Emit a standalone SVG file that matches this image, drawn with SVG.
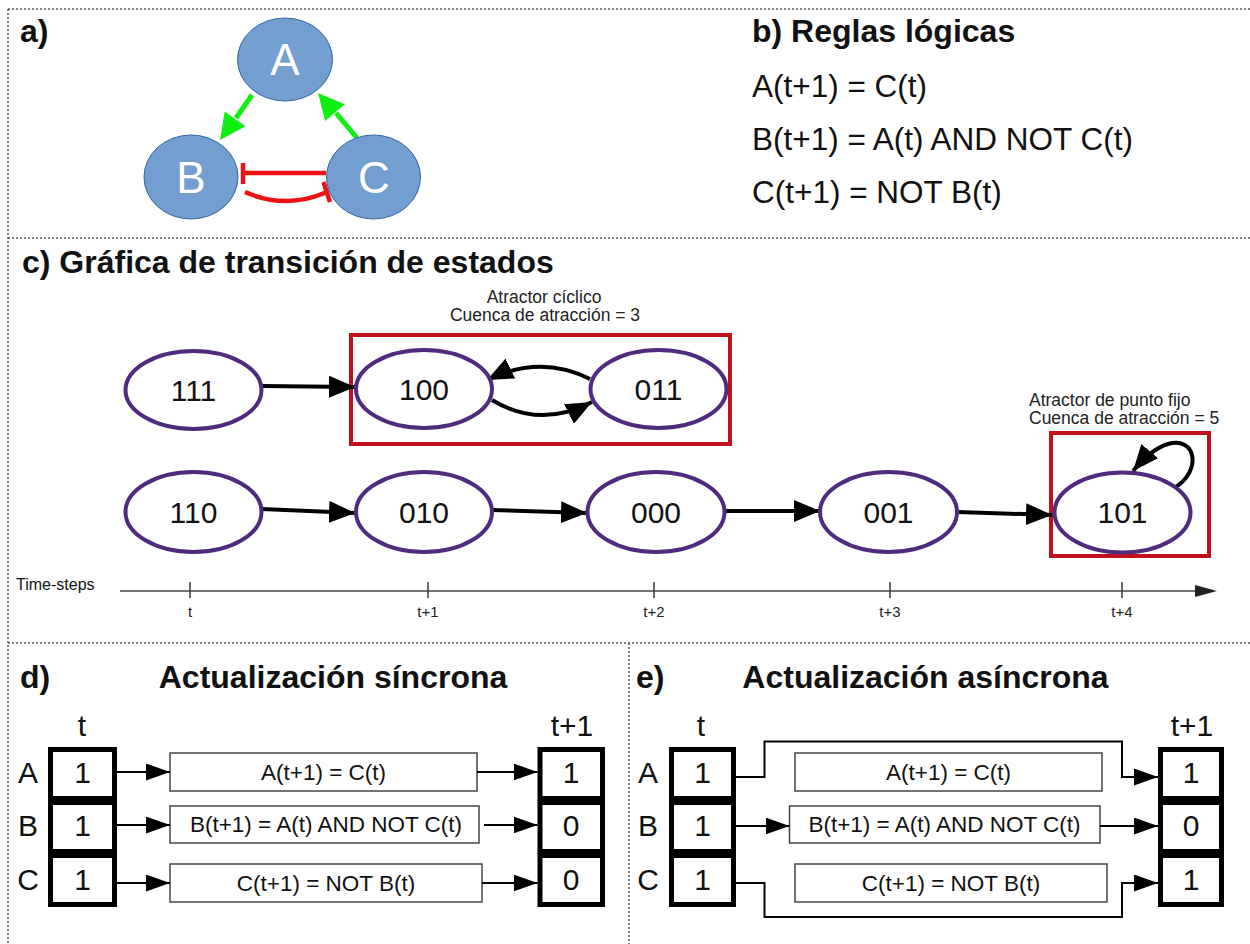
<svg xmlns="http://www.w3.org/2000/svg" width="1250" height="944" viewBox="0 0 1250 944">
  <style>
    text { font-family: "Liberation Sans", Arial, sans-serif; fill: #111; }
    .title { font-size: 32px; font-weight: bold; }
    .rule { font-size: 31.5px; }
    .gene { fill: #729fcf; stroke: #3465a4; stroke-width: 1; }
    .gene-label { font-size: 44px; fill: #fff; text-anchor: middle; }
    .act { stroke: #11ee11; stroke-width: 5; fill: none; }
    .act-head { fill: #11ee11; }
    .inh { stroke: #ee1111; stroke-width: 4.5; fill: none; }
    .state { fill: #fff; stroke: #4f2b7d; stroke-width: 4; }
    .state-label { font-size: 30px; text-anchor: middle; }
    .attractor { fill: none; stroke: #c0101c; stroke-width: 4; }
    .note { font-size: 17.5px; fill: #222; }
    .edge { stroke: #000; stroke-width: 4; fill: none; }
    .axis { stroke: #444; stroke-width: 1.6; fill: none; }
    .tick { font-size: 15px; text-anchor: middle; fill: #222; }
    .cell { fill: #fff; stroke: #000; stroke-width: 5; }
    .cell-text { font-size: 30px; text-anchor: middle; }
    .fn { fill: #fff; stroke: #444; stroke-width: 1.5; }
    .fn-text { font-size: 22.5px; text-anchor: middle; }
    .wire { stroke: #000; stroke-width: 2; fill: none; }
    .border { stroke: #555; stroke-width: 1.5; stroke-dasharray: 2 2; fill: none; }
  </style>
  <defs>
    <marker id="head-big" markerUnits="userSpaceOnUse" markerWidth="26" markerHeight="22" refX="26" refY="11" orient="auto">
      <path d="M0,0 L26,11 L0,22 z" fill="#000"/>
    </marker>
    <marker id="head-small" markerUnits="userSpaceOnUse" markerWidth="24" markerHeight="17" refX="24" refY="8.5" orient="auto">
      <path d="M0,0 L24,8.5 L0,17 z" fill="#000"/>
    </marker>
  </defs>

  <rect width="1250" height="944" fill="#fff"/>

  <!-- panel frames -->
  <g id="frames">
    <line class="border" x1="8" y1="9" x2="1250" y2="9"/>
    <line class="border" x1="8" y1="9" x2="8" y2="944"/>
    <line class="border" x1="8" y1="238" x2="1250" y2="238"/>
    <line class="border" x1="8" y1="643" x2="1250" y2="643"/>
    <line class="border" x1="629" y1="643" x2="629" y2="944"/>
  </g>

  <!-- a) network -->
  <text class="title" x="20" y="42">a)</text>
  <g id="connectors-a">
    <line class="act" x1="252" y1="95" x2="236" y2="118"/>
    <polygon class="act-head" points="220,140 245.5,126.2 224.7,111.4"/>
    <line class="act" x1="357" y1="138" x2="336" y2="113"/>
    <polygon class="act-head" points="318,93 344.8,104.3 325.2,121.1"/>
    <line class="inh" x1="326" y1="173" x2="243" y2="173"/>
    <line class="inh" x1="243" y1="163" x2="243" y2="184"/>
    <path class="inh" d="M245,192 Q286,210 327,192"/>
    <line class="inh" x1="323.5" y1="182" x2="330" y2="202"/>
  </g>
  <g id="gene-A">
    <ellipse class="gene" cx="285" cy="59.5" rx="47.5" ry="41.5"/>
    <text class="gene-label" x="285" y="75">A</text>
  </g>
  <g id="gene-B">
    <ellipse class="gene" cx="191" cy="177" rx="47" ry="42"/>
    <text class="gene-label" x="191" y="193">B</text>
  </g>
  <g id="gene-C">
    <ellipse class="gene" cx="373.5" cy="177" rx="47" ry="42"/>
    <text class="gene-label" x="374" y="193">C</text>
  </g>

  <!-- b) rules -->
  <g id="rules">
    <text class="title" x="752" y="42">b) Reglas lógicas</text>
    <text class="rule" x="752" y="97">A(t+1) = C(t)</text>
    <text class="rule" x="752" y="150">B(t+1) = A(t) AND NOT C(t)</text>
    <text class="rule" x="752" y="203">C(t+1) = NOT B(t)</text>
  </g>

  <!-- c) state transition graph -->
  <text class="title" x="22" y="273">c) Gráfica de transición de estados</text>

  <g id="attractor-cycle">
    <rect class="attractor" x="351" y="335" width="379" height="109"/>
    <text class="note" x="544" y="303" text-anchor="middle">Atractor cíclico</text>
    <text class="note" x="545" y="321" text-anchor="middle">Cuenca de atracción = 3</text>
  </g>
  <g id="attractor-fixed">
    <rect class="attractor" x="1051" y="433" width="158" height="123"/>
    <text class="note" x="1029" y="406">Atractor de punto fijo</text>
    <text class="note" x="1029" y="424">Cuenca de atracción = 5</text>
  </g>

  <g id="connectors-c">
    <line class="edge" x1="262" y1="386" x2="355" y2="387" marker-end="url(#head-big)"/>
    <path class="edge" d="M590,379 Q540,354 487,380" marker-end="url(#head-big)"/>
    <path class="edge" d="M492,400 Q540,429 592,402" marker-end="url(#head-big)"/>
    <line class="edge" x1="262" y1="509" x2="355" y2="513" marker-end="url(#head-big)"/>
    <line class="edge" x1="492" y1="510" x2="587" y2="513" marker-end="url(#head-big)"/>
    <line class="edge" x1="725" y1="511" x2="820" y2="511" marker-end="url(#head-big)"/>
    <line class="edge" x1="957" y1="512" x2="1052" y2="515" marker-end="url(#head-big)"/>
    <path class="edge" d="M1176,487 C1202,470 1196,436 1168,444 C1157,447 1144,458 1133,471" marker-end="url(#head-big)"/>
  </g>

  <g id="state-111">
    <ellipse class="state" cx="193.5" cy="390" rx="68" ry="39"/>
    <text class="state-label" x="193.5" y="401">111</text>
  </g>
  <g id="state-100">
    <ellipse class="state" cx="424" cy="389" rx="68" ry="39"/>
    <text class="state-label" x="424" y="400">100</text>
  </g>
  <g id="state-011">
    <ellipse class="state" cx="658.5" cy="389" rx="68" ry="39"/>
    <text class="state-label" x="658.5" y="400">011</text>
  </g>
  <g id="state-110">
    <ellipse class="state" cx="193.5" cy="512" rx="68" ry="40"/>
    <text class="state-label" x="193.5" y="523">110</text>
  </g>
  <g id="state-010">
    <ellipse class="state" cx="424" cy="512" rx="68" ry="40"/>
    <text class="state-label" x="424" y="523">010</text>
  </g>
  <g id="state-000">
    <ellipse class="state" cx="656" cy="512" rx="68.5" ry="40"/>
    <text class="state-label" x="656" y="523">000</text>
  </g>
  <g id="state-001">
    <ellipse class="state" cx="888.5" cy="512" rx="68.5" ry="40"/>
    <text class="state-label" x="888.5" y="523">001</text>
  </g>
  <g id="state-101">
    <ellipse class="state" cx="1122.5" cy="512.5" rx="68" ry="40"/>
    <text class="state-label" x="1122.5" y="523">101</text>
  </g>

  <g id="time-axis">
    <text x="16" y="590" font-size="16" fill="#222">Time-steps</text>
    <line class="axis" x1="120" y1="591" x2="1200" y2="591"/>
    <polygon points="1195,585 1217,591 1195,597" fill="#222"/>
    <line class="axis" x1="190" y1="582" x2="190" y2="598"/>
    <line class="axis" x1="428" y1="582" x2="428" y2="598"/>
    <line class="axis" x1="654" y1="582" x2="654" y2="598"/>
    <line class="axis" x1="890" y1="582" x2="890" y2="598"/>
    <line class="axis" x1="1122" y1="582" x2="1122" y2="598"/>
    <text class="tick" x="190" y="617">t</text>
    <text class="tick" x="428" y="617">t+1</text>
    <text class="tick" x="654" y="617">t+2</text>
    <text class="tick" x="890" y="617">t+3</text>
    <text class="tick" x="1122" y="617">t+4</text>
  </g>

  <!-- d) synchronous update -->
  <text class="title" x="20" y="688">d)</text>
  <text class="title" x="333" y="688" text-anchor="middle">Actualización síncrona</text>

  <g id="sync-t">
    <text class="cell-text" x="82" y="736">t</text>
    <text class="cell-text" x="28" y="783">A</text>
    <text class="cell-text" x="28" y="836">B</text>
    <text class="cell-text" x="28" y="890">C</text>
    <rect class="cell" x="50.5" y="749.5" width="64" height="49"/>
    <rect class="cell" x="50.5" y="802.5" width="64" height="49"/>
    <rect class="cell" x="50.5" y="855.5" width="64" height="49"/>
    <text class="cell-text" x="82.5" y="783">1</text>
    <text class="cell-text" x="82.5" y="836">1</text>
    <text class="cell-text" x="82.5" y="890">1</text>
  </g>
  <g id="sync-rules">
    <rect class="fn" x="170" y="753" width="307" height="38"/>
    <text class="fn-text" x="323.5" y="780">A(t+1) = C(t)</text>
    <rect class="fn" x="170" y="806" width="309" height="37"/>
    <text class="fn-text" x="326" y="832">B(t+1) = A(t) AND NOT C(t)</text>
    <rect class="fn" x="170" y="864" width="312" height="38"/>
    <text class="fn-text" x="326" y="891">C(t+1) = NOT B(t)</text>
  </g>
  <g id="sync-t1">
    <text class="cell-text" x="572" y="736">t+1</text>
    <rect class="cell" x="540" y="749.5" width="62.5" height="49"/>
    <rect class="cell" x="540" y="802.5" width="62.5" height="49"/>
    <rect class="cell" x="540" y="855.5" width="62.5" height="49"/>
    <text class="cell-text" x="571" y="783">1</text>
    <text class="cell-text" x="571" y="836">0</text>
    <text class="cell-text" x="571" y="890">0</text>
  </g>
  <g id="connectors-d">
    <line class="wire" x1="117" y1="772" x2="170" y2="772" marker-end="url(#head-small)"/>
    <line class="wire" x1="117" y1="825" x2="170" y2="825" marker-end="url(#head-small)"/>
    <line class="wire" x1="117" y1="883" x2="170" y2="883" marker-end="url(#head-small)"/>
    <line class="wire" x1="477" y1="772" x2="537.5" y2="772" marker-end="url(#head-small)"/>
    <line class="wire" x1="484" y1="825" x2="537.5" y2="825" marker-end="url(#head-small)"/>
    <line class="wire" x1="482" y1="883" x2="537.5" y2="883" marker-end="url(#head-small)"/>
  </g>

  <!-- e) asynchronous update -->
  <text class="title" x="636" y="688">e)</text>
  <text class="title" x="925.5" y="688" text-anchor="middle">Actualización asíncrona</text>

  <g id="async-t">
    <text class="cell-text" x="701" y="736">t</text>
    <text class="cell-text" x="648" y="783">A</text>
    <text class="cell-text" x="648" y="836">B</text>
    <text class="cell-text" x="648" y="890">C</text>
    <rect class="cell" x="671.5" y="749.5" width="62" height="49"/>
    <rect class="cell" x="671.5" y="802.5" width="62" height="49"/>
    <rect class="cell" x="671.5" y="855.5" width="62" height="49"/>
    <text class="cell-text" x="702.5" y="783">1</text>
    <text class="cell-text" x="702.5" y="836">1</text>
    <text class="cell-text" x="702.5" y="890">1</text>
  </g>
  <g id="async-rules">
    <rect class="fn" x="795" y="753" width="307" height="38"/>
    <text class="fn-text" x="948.5" y="780">A(t+1) = C(t)</text>
    <rect class="fn" x="789.5" y="806" width="310.5" height="37"/>
    <text class="fn-text" x="944.5" y="832">B(t+1) = A(t) AND NOT C(t)</text>
    <rect class="fn" x="795" y="864" width="312" height="38"/>
    <text class="fn-text" x="951" y="891">C(t+1) = NOT B(t)</text>
  </g>
  <g id="async-t1">
    <text class="cell-text" x="1192" y="736">t+1</text>
    <rect class="cell" x="1160.5" y="749.5" width="61" height="49"/>
    <rect class="cell" x="1160.5" y="802.5" width="61" height="49"/>
    <rect class="cell" x="1160.5" y="855.5" width="61" height="49"/>
    <text class="cell-text" x="1191" y="783">1</text>
    <text class="cell-text" x="1191" y="836">0</text>
    <text class="cell-text" x="1191" y="890">1</text>
  </g>
  <g id="connectors-e">
    <polyline class="wire" points="736,777 764.5,777 764.5,741.5 1122,741.5 1122,777 1158,777" marker-end="url(#head-small)"/>
    <line class="wire" x1="736" y1="826" x2="789.5" y2="826" marker-end="url(#head-small)"/>
    <line class="wire" x1="1100" y1="826" x2="1158" y2="826" marker-end="url(#head-small)"/>
    <polyline class="wire" points="736,883 764.5,883 764.5,917 1122,917 1122,883 1158,883" marker-end="url(#head-small)"/>
  </g>
</svg>
